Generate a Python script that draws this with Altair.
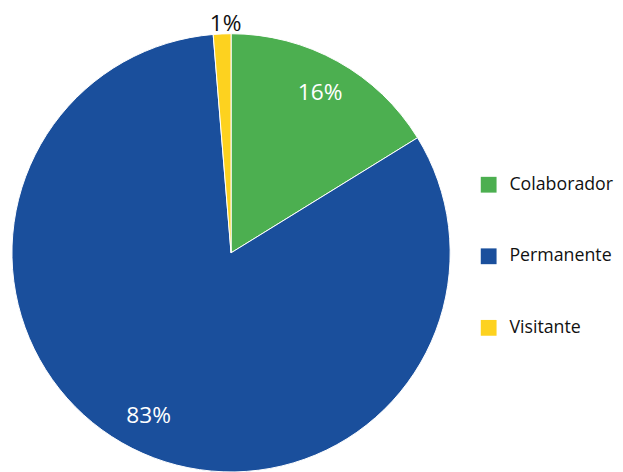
import altair as alt
import pandas as pd

categories = ["Colaborador", "Permanente", "Visitante"]
values = [16.2, 82.5, 1.3]
labels = ["16%", "83%", "1%"]
colors = ["#4CAF50", "#1A4F9C", "#FDD21F"]

df = pd.DataFrame({
    "categoria": categories,
    "valor": values,
    "etiqueta": labels,
    "orden": list(range(len(categories))),
})

CX, CY = 226, 245
theta_scale = alt.Scale(zero=True, nice=False)

pie = alt.Chart(df).mark_arc(
    outerRadius=222, stroke="white", strokeWidth=1, x=CX, y=CY
).encode(
    theta=alt.Theta("valor:Q", stack=True, scale=theta_scale),
    order=alt.Order("orden:Q"),
    color=alt.Color(
        "categoria:N",
        scale=alt.Scale(domain=categories, range=colors),
        legend=alt.Legend(
            title=None,
            orient="none",
            legendX=478,
            legendY=167,
            symbolType="square",
            symbolSize=256,
            symbolStrokeWidth=0,
            labelFontSize=18,
            labelFont="Open Sans",
            labelColor="#111111",
            labelOffset=12,
            rowPadding=54.5,
            padding=0,
        ),
    ),
)

text_base = alt.Chart(df).transform_window(
    cum="sum(valor)", sort=[alt.SortField("orden")], frame=[None, 0]
).transform_calculate(
    mid="datum.cum - datum.valor / 2"
)

inner = text_base.transform_filter("datum.valor >= 5").mark_text(
    fontSize=23, font="Open Sans", color="white", radius=185, x=CX, y=CY
).encode(
    theta=alt.Theta("mid:Q", stack=None, scale=theta_scale),
    text="etiqueta:N",
)

outer = text_base.transform_filter("datum.valor < 5").mark_text(
    fontSize=23, font="Open Sans", color="#111111", radius=232, x=CX, y=CY, dx=4
).encode(
    theta=alt.Theta("mid:Q", stack=None, scale=theta_scale),
    text="etiqueta:N",
)

chart = alt.layer(pie, inner, outer).properties(
    width=615, height=464, padding=0, autosize="none"
).configure_view(stroke=None)

chart.save("out.html", embed_options={"renderer": "svg", "actions": False})
